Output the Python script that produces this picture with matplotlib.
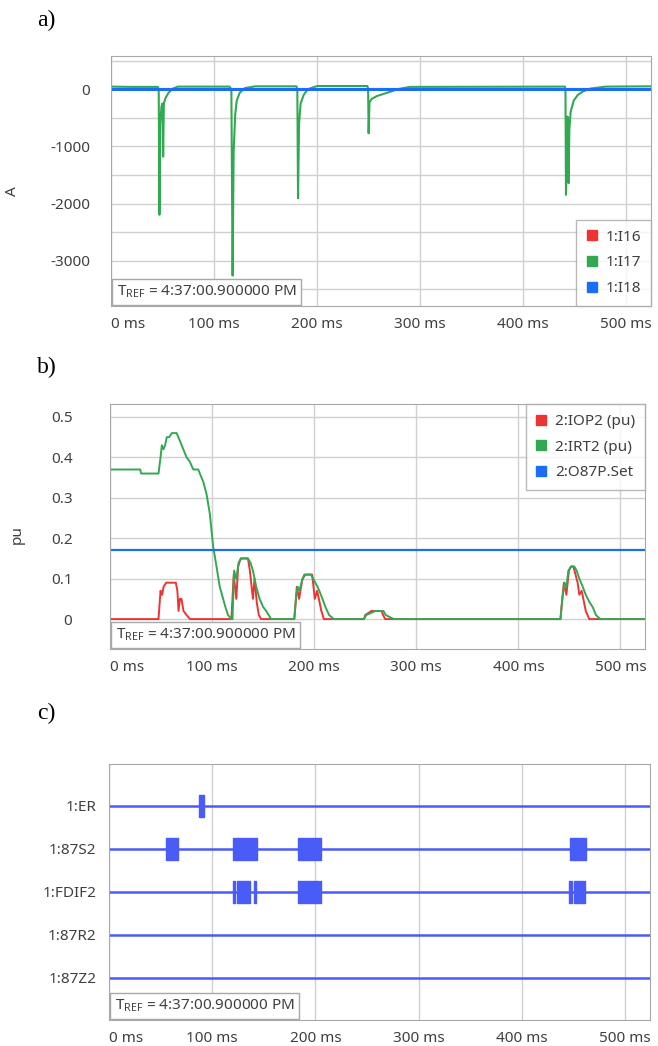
import numpy as np
import matplotlib
matplotlib.use('Agg')
import matplotlib.pyplot as plt
from matplotlib.ticker import MultipleLocator, FuncFormatter

plt.rcParams['font.family'] = ['Noto Sans', 'DejaVu Sans']
plt.rcParams['mathtext.default'] = 'regular'
plt.rcParams['axes.unicode_minus'] = False

TREF = r'T$_{\mathregular{REF}}$ = 4:37:00.900000 PM'

# ---- panel a: currents (A) ----
i16_t = [0, 524]
i16_v = [0, 0]
i18_t = [0, 524]
i18_v = [0, 0]
i17_t = [0, 20, 45.5, 46.3, 47, 47.8, 49, 50, 50.6, 51.3, 53, 56, 60, 65,
         115, 116.8, 118, 119, 120.5, 122, 125, 130, 140,
         180, 180.8, 181.5, 182.5, 184, 187, 191, 200,
         248.8, 249.5, 250, 250.8, 253, 258, 265, 272, 278, 290,
         440.5, 441, 441.5, 442.3, 443, 443.6, 444, 444.8, 446, 449, 453, 458, 465, 480, 524]
i17_v = [45, 40, 40, 0, -2195, -600, -300, -250, -1180, -250, -150, -60, 10, 45,
         45, 0, -3258, -1100, -450, -200, -60, 20, 50,
         50, 0, -1905, -600, -250, -100, 0, 55,
         55, 0, -772, -230, -170, -120, -80, -40, 0, 40,
         45, 0, -1847, -700, -480, -900, -1643, -700, -400, -200, -100, -40, 10, 45, 50]

# ---- panel b: differential element (pu) ----
irt2_t = [0, 29.6, 30.5, 47.5, 49.5, 50.8, 52.4, 54, 55.6, 58, 60.5, 65.3, 68.6,
          71.8, 75, 78, 81.6, 86.4, 88, 91.3, 94.5, 97.8, 101, 104.3, 107.5,
          110.8, 113, 115.6, 118.9, 120, 121.5, 123.7, 126, 128.6, 135.1, 137.5,
          140, 143.2, 146.5, 150, 153, 157.8, 180.5, 182.5, 183.8, 185.5, 187.5,
          190.3, 196.8, 199, 203.2, 205, 208.1, 211, 214.6, 219.3, 248.7, 251,
          259.8, 267.9, 270, 277.9, 441.2, 443, 445.1, 447, 449, 451.6, 454.8,
          457, 459.7, 463, 466, 470, 472.7, 476, 480.2, 524]
irt2_v = [0.37, 0.37, 0.36, 0.36, 0.40, 0.43, 0.42, 0.43, 0.45, 0.45, 0.46, 0.46, 0.44,
          0.42, 0.40, 0.39, 0.37, 0.37, 0.36, 0.34, 0.31, 0.26, 0.18, 0.13, 0.08,
          0.05, 0.03, 0.01, 0.0, 0.0, 0.12, 0.10, 0.14, 0.15, 0.15, 0.14,
          0.12, 0.08, 0.05, 0.03, 0.02, 0.0, 0.0, 0.06, 0.08, 0.07, 0.09,
          0.11, 0.11, 0.10, 0.08, 0.07, 0.05, 0.03, 0.01, 0.0, 0.0, 0.01,
          0.02, 0.02, 0.01, 0.0, 0.0, 0.05, 0.09, 0.08, 0.12, 0.13, 0.13,
          0.12, 0.10, 0.08, 0.06, 0.04, 0.03, 0.01, 0.0, 0.0]
iop2_t = [0, 47.5, 49.5, 51, 52.5, 55, 64.5, 66, 67.1, 68.5, 70, 72, 75, 78.3,
          118.9, 121.2, 123.7, 125.5, 128, 135.1, 137, 140, 141.6, 143.8, 145.8, 148,
          180.5, 183, 185.2, 188.5, 191.5, 198, 200.6, 202.9, 207, 209.5,
          248.7, 250, 256, 266, 267.5, 269.5,
          441.2, 444.5, 447, 449.5, 451.6, 453.9, 458, 459.7, 462, 466, 469.4, 524]
iop2_v = [0, 0, 0.07, 0.06, 0.08, 0.09, 0.09, 0.07, 0.02, 0.05, 0.05, 0.02, 0.01, 0,
          0, 0.11, 0.05, 0.13, 0.15, 0.15, 0.12, 0.05, 0.10, 0.04, 0.01, 0,
          0, 0.08, 0.05, 0.10, 0.11, 0.11, 0.05, 0.07, 0.02, 0,
          0, 0.01, 0.02, 0.02, 0.01, 0,
          0, 0.09, 0.06, 0.12, 0.13, 0.13, 0.09, 0.06, 0.07, 0.02, 0, 0]
o87p_set = 0.17

# ---- panel c: digital channels, active intervals (ms) ----
dig_names = ['1:ER', '1:87S2', '1:FDIF2', '1:87R2', '1:87Z2']
er_on = [(87.2, 92.2)]
s87_on = [(55.2, 66.6), (120.5, 143.2), (182.9, 203.3), (204.0, 205.2), (446.2, 462.3)]
fdif_on = [(120.5, 122.4), (123.8, 136.7), (140.0, 142.6), (182.9, 203.0),
           (204.0, 205.2), (445.2, 448.4), (450.0, 461.3)]
r87_on = []
z87_on = []
dig_on = [er_on, s87_on, fdif_on, r87_on, z87_on]

RED = '#ee3333'
GREEN = '#33a852'
BLUE = '#1a6ef5'
DIG = '#4a5cf8'
TXT = '#404040'
GRID = '#d0d0d0'
SPINE = '#a8a8a8'
FS = 11

fig = plt.figure(figsize=(6.58, 10.46), dpi=100)
W, H = 658.0, 1046.0


def make_axes(left, top, right, bottom):
    return fig.add_axes([left / W, 1 - bottom / H, (right - left) / W, (bottom - top) / H])


def style(ax, ypad):
    for s in ax.spines.values():
        s.set_color(SPINE)
    ax.tick_params(axis='both', length=0, labelsize=FS, labelcolor=TXT)
    ax.tick_params(axis='y', pad=ypad)
    ax.tick_params(axis='x', pad=8)
    ax.set_xlim(0, 524)
    ax.set_xticks(range(0, 501, 100))
    ax.set_xticklabels([f'{v} ms' for v in range(0, 501, 100)])
    ax.get_xticklabels()[0].set_horizontalalignment('left')
    ax.grid(True, axis='x', color=GRID, lw=1)
    ax.set_axisbelow(True)
    ax.annotate(TREF, xy=(0, 0), xycoords='axes fraction', xytext=(4, 4),
                textcoords='offset points', fontsize=FS, color=TXT, ha='left', va='bottom',
                bbox=dict(boxstyle='square,pad=0.3', fc='white', ec=SPINE, lw=1), zorder=10)


def square_legend(ax, labels, colors, loc):
    handles = [plt.Line2D([], [], ls='', marker='s', ms=7, color=c) for c in colors]
    leg = ax.legend(handles, labels, loc=loc, fontsize=FS, frameon=True, fancybox=False,
                    borderaxespad=0, handlelength=0.7, handletextpad=0.55,
                    labelspacing=0.7, borderpad=0.65, labelcolor=TXT)
    leg.get_frame().set_edgecolor(SPINE)
    leg.get_frame().set_linewidth(1)
    leg.set_zorder(10)


# panel a
ax1 = make_axes(111, 56, 651, 306)
style(ax1, 15)
ax1.plot(i16_t, i16_v, color=RED, lw=1.5)
ax1.plot(i17_t, i17_v, color=GREEN, lw=1.5)
ax1.plot(i18_t, i18_v, color=BLUE, lw=2.2)
ax1.set_ylim(-3790, 580)
ax1.yaxis.set_major_locator(MultipleLocator(1000))
ax1.yaxis.set_minor_locator(MultipleLocator(500))
ax1.tick_params(axis='y', which='minor', length=0)
ax1.grid(True, axis='y', which='both', color=GRID, lw=1)
ax1.set_ylabel('A', fontsize=FS, color=TXT)
ax1.yaxis.set_label_coords(-0.168, 0.46)
square_legend(ax1, ['1:I16', '1:I17', '1:I18'], [RED, GREEN, BLUE], 'lower right')

# panel b
ax2 = make_axes(110, 404, 645, 649)
style(ax2, 27)
ax2.plot(iop2_t, iop2_v, color=RED, lw=1.4)
ax2.plot(irt2_t, irt2_v, color=GREEN, lw=1.4)
ax2.axhline(o87p_set, color=BLUE, lw=1.6)
ax2.set_ylim(-0.074, 0.532)
ax2.yaxis.set_major_locator(MultipleLocator(0.1))
ax2.yaxis.set_major_formatter(FuncFormatter(lambda v, p: '0' if abs(v) < 1e-9 else f'{v:.1f}'))
ax2.grid(True, axis='y', color=GRID, lw=1)
ax2.set_ylabel('pu', fontsize=FS, color=TXT)
ax2.yaxis.set_label_coords(-0.159, 0.466)
square_legend(ax2, ['2:IOP2 (pu)', '2:IRT2 (pu)', '2:O87P.Set'], [RED, GREEN, BLUE], 'upper right')

# panel c
ax3 = make_axes(109, 764, 650, 1020)
style(ax3, 9)
n = len(dig_names)
for i, (name, spans) in enumerate(zip(dig_names, dig_on)):
    y = n - 1 - i
    ax3.axhline(y, color=DIG, lw=1.8)
    if spans:
        ax3.broken_barh([(a, b - a) for a, b in spans], (y - 0.26, 0.52), color=DIG)
ax3.set_ylim(-0.98, n - 1 + 0.97)
ax3.set_yticks(range(n - 1, -1, -1))
ax3.set_yticklabels(dig_names)

# panel labels
for label, ypx in [('a)', 20), ('b)', 367), ('c)', 713)]:
    fig.text(37 / W, 1 - ypx / H, label, fontsize=17, family='Liberation Serif',
             ha='left', va='center', color='black')

fig.savefig('out.png', dpi=100)
